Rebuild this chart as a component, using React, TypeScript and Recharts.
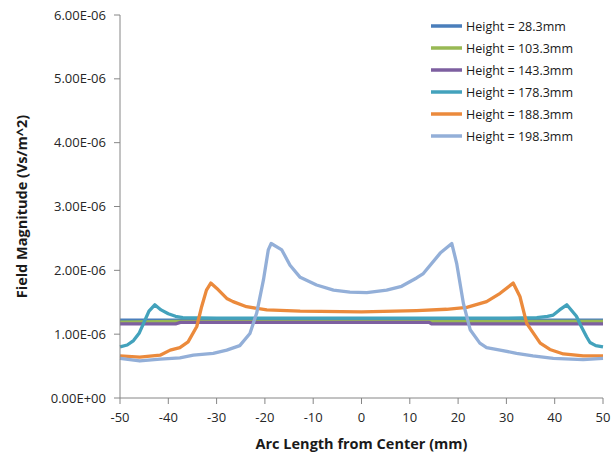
import { Label, Line, LineChart, XAxis, YAxis } from "recharts";

// field values are in units of 1e-6 Vs/m^2, x is arc length in mm
const SCALE = 1e-6;

const h28 = [
  [-50, 1.22], [-38, 1.22], [38, 1.22], [50, 1.22],
];
const h103 = [
  [-50, 1.19], [-38, 1.2], [14, 1.2], [14.5, 1.2], [50, 1.2],
];
const h143 = [
  [-50, 1.16], [-38.5, 1.16], [-37.5, 1.185], [14, 1.185], [14.5, 1.16], [50, 1.16],
];
const h178 = [
  [-50, 0.8], [-48.5, 0.83], [-47.2, 0.9], [-46, 1.02], [-45, 1.19], [-44, 1.36],
  [-42.8, 1.46], [-41.5, 1.38], [-40, 1.32], [-38.5, 1.28], [-37, 1.26], [-30, 1.25],
  [30, 1.25], [36.3, 1.26], [38.5, 1.28], [39.7, 1.3], [41, 1.38], [42.5, 1.46],
  [44.5, 1.28], [45.5, 1.12], [46.6, 0.96], [47.3, 0.87], [48.5, 0.82], [50, 0.8],
];
const h188 = [
  [-50, 0.66], [-45.9, 0.64], [-41.7, 0.67], [-39.6, 0.75], [-37.6, 0.79], [-35.9, 0.88],
  [-34.1, 1.12], [-33.1, 1.43], [-32.1, 1.69], [-31.2, 1.8], [-30, 1.72], [-27.9, 1.56],
  [-26.6, 1.51], [-23.8, 1.43], [-19.6, 1.38], [-12.7, 1.36], [0, 1.35], [11.4, 1.37],
  [17.6, 1.39], [21.8, 1.42], [25.9, 1.51], [28.7, 1.64], [31.4, 1.8], [32.8, 1.59],
  [34.2, 1.17], [37, 0.86], [39, 0.76], [41.8, 0.69], [45.9, 0.66], [50, 0.66],
];
const h198 = [
  [-50, 0.62], [-45.9, 0.58], [-41.7, 0.61], [-37.6, 0.63], [-34.8, 0.67], [-30.7, 0.7],
  [-27.9, 0.75], [-25.2, 0.82], [-23.1, 1.01], [-21.7, 1.33], [-20.3, 1.85], [-19.3, 2.32],
  [-18.7, 2.42], [-16.5, 2.32], [-14.8, 2.08], [-12.7, 1.89], [-9.3, 1.77], [-5.8, 1.69],
  [-2.4, 1.66], [1.1, 1.65], [5.2, 1.69], [8.3, 1.75], [11.4, 1.88], [12.8, 1.95],
  [16.3, 2.27], [18.7, 2.42], [19.7, 2.11], [21.1, 1.48], [22.5, 1.07], [24.5, 0.86],
  [25.9, 0.79], [28.7, 0.75], [32.1, 0.7], [35.5, 0.66], [39.7, 0.62], [45.9, 0.6],
  [50, 0.62],
];

const xTicks = [-50, -40, -30, -20, -10, 0, 10, 20, 30, 40, 50];
const yTicks = [0, 1, 2, 3, 4, 5, 6];

const series = [
  { name: "Height = 28.3mm", points: h28, color: "#4A7EBB" },
  { name: "Height = 103.3mm", points: h103, color: "#98B954" },
  { name: "Height = 143.3mm", points: h143, color: "#7D5FA0" },
  { name: "Height = 178.3mm", points: h178, color: "#43A2BC" },
  { name: "Height = 188.3mm", points: h188, color: "#EB8A3C" },
  { name: "Height = 198.3mm", points: h198, color: "#93AFD8" },
];

const toRows = (pts: number[][]) => pts.map(([x, y]) => ({ x, y: y * SCALE }));

// Excel-style scientific labels: 1.00E-06, 0.00E+00
const sci = (v: number) => {
  const [m, e] = v.toExponential(2).split("e");
  const n = parseInt(e, 10);
  const exp = String(Math.abs(n)).padStart(2, "0");
  return `${m.toUpperCase()}E${n < 0 ? "-" : "+"}${exp}`;
};

const FONT = "'Open Sans', sans-serif";
const AXIS = "#868686";
const TICK = { fill: "#262626", fontSize: 13, fontFamily: FONT };

// legend sits over the plot in the top-right corner, outside the chart layout
const LegendBox = () => (
  <div
    style={{
      position: "absolute",
      left: 430,
      top: 15,
      fontFamily: FONT,
      fontSize: 12.5,
      color: "#1a1a1a",
    }}
  >
    {series.map((s) => (
      <div key={s.name} style={{ display: "flex", alignItems: "center", height: 22 }}>
        <svg width={34} height={6}>
          <line x1={1} y1={3} x2={32} y2={3} stroke={s.color} strokeWidth={3.5} />
        </svg>
        <span style={{ marginLeft: 2 }}>{s.name}</span>
      </div>
    ))}
  </div>
);

const App = () => {
  return (
    <div style={{ position: "absolute", left: 0, top: 0, width: 616, height: 453, background: "#fff" }}>
      <LineChart
        width={616}
        height={453}
        margin={{ top: 15, right: 13, bottom: 0, left: 0 }}
      >
        <XAxis
          type="number"
          dataKey="x"
          domain={[-50, 50]}
          ticks={xTicks}
          height={55}
          stroke={AXIS}
          tickSize={6}
          tickMargin={9}
          tick={TICK}
          allowDuplicatedCategory={false}
        >
          <Label
            value="Arc Length from Center (mm)"
            position="insideBottom"
            offset={4}
            style={{ fontFamily: FONT, fontSize: 14.5, fontWeight: 700, fill: "#1a1a1a" }}
          />
        </XAxis>
        <YAxis
          type="number"
          domain={[0, 6 * SCALE]}
          ticks={yTicks.map((t) => t * SCALE)}
          tickFormatter={sci}
          width={120}
          stroke={AXIS}
          tickSize={6}
          tickMargin={8}
          tick={TICK}
        >
          <Label
            value="Field Magnitude (Vs/m^2)"
            angle={-90}
            position="center"
            dx={-38}
            style={{ fontFamily: FONT, fontSize: 14.5, fontWeight: 700, fill: "#1a1a1a" }}
          />
        </YAxis>
        {series.map((s) => (
          <Line
            key={s.name}
            data={toRows(s.points)}
            dataKey="y"
            name={s.name}
            type="linear"
            stroke={s.color}
            strokeWidth={3.3}
            strokeLinejoin="round"
            dot={false}
            activeDot={false}
            isAnimationActive={false}
          />
        ))}
      </LineChart>
      <LegendBox />
    </div>
  );
};

export default App;
